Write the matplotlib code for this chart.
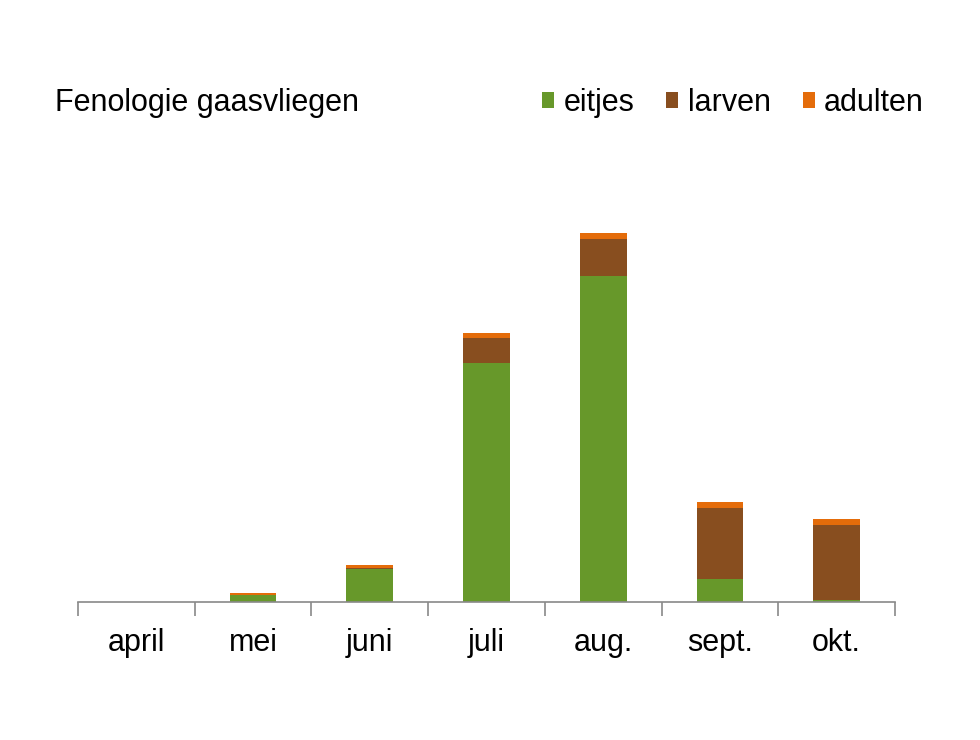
import numpy as np
import matplotlib.pyplot as plt

plt.rcParams['font.family'] = ['Liberation Sans', 'DejaVu Sans']

maanden = ['april', 'mei', 'juni', 'juli', 'aug.', 'sept.', 'okt.']
eitjes = np.array([0, 7, 33, 239, 326, 23, 2])
larven = np.array([0, 0.3, 1, 25, 37, 71, 75])
adulten = np.array([0, 1.5, 2.7, 5, 6, 6, 6])

kleuren = ['#67982A', '#884E1F', '#E46C0A']

fig = plt.figure(figsize=(9.8, 7.4), dpi=100)
ax = fig.add_axes([78/980, 138/740, 817/980, 400/740])

x = np.arange(len(maanden))
w = 0.4
ax.bar(x, eitjes, w, color=kleuren[0], label='eitjes')
ax.bar(x, larven, w, bottom=eitjes, color=kleuren[1], label='larven')
ax.bar(x, adulten, w, bottom=eitjes + larven, color=kleuren[2], label='adulten')

ax.set_xlim(-0.5, len(maanden) - 0.5)
ax.set_ylim(0, 400)
for s in ['top', 'left', 'right']:
    ax.spines[s].set_visible(False)
ax.spines['bottom'].set_color('#898989')
ax.spines['bottom'].set_linewidth(1.2)
ax.set_yticks([])
ax.set_xticks(x)
ax.set_xticklabels(maanden, fontsize=22)
ax.tick_params(axis='x', which='major', length=0, pad=19)
ax.set_xticks(np.arange(len(maanden) + 1) - 0.5, minor=True)
ax.tick_params(axis='x', which='minor', length=10, width=1.2, color='#898989')

fig.text(55/980, 1 - 103/740, 'Fenologie gaasvliegen', fontsize=22,
         va='center', ha='left')
fig.legend(loc='center right', bbox_to_anchor=(924/980, 1 - 103/740), ncol=3,
           frameon=False, fontsize=22, handlelength=0.4, handleheight=0.4,
           handletextpad=0.3, columnspacing=1.05, borderaxespad=0,
           borderpad=0)

plt.savefig('out.png', dpi=100)
